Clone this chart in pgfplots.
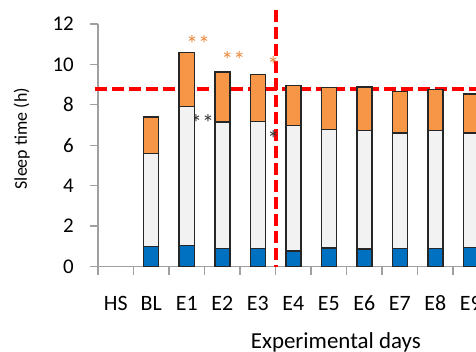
\documentclass[border=0pt]{standalone}
\usepackage{pgfplots}
\pgfplotsset{compat=1.18}
\usepackage{fontspec}
\setmainfont{Carlito}
\definecolor{barblue}{HTML}{0070C0}
\definecolor{bargray}{HTML}{F2F2F2}
\definecolor{barorange}{HTML}{F79646}
\definecolor{starorange}{HTML}{E98A3E}
\definecolor{axgray}{HTML}{A0A0A0}
\begin{document}
\begin{tikzpicture}
\path[use as bounding box, clip] (-98bp,-85.5bp) rectangle (378bp,266.5bp);
\begin{axis}[
  at={(0,0)}, anchor=south west,
  scale only axis, width=390.5bp, height=242.5bp,
  xmin=-0.5, xmax=10.5, ymin=0, ymax=12,
  clip=false,
  ybar stacked, bar width=15bp,
  axis x line=bottom, axis y line=left,
  axis line style={axgray, line width=1.2bp, -},
  tick align=outside, major tick length=8bp,
  xtick={-0.5,0.5,...,10.5},
  x tick label as interval,
  xticklabels={HS,BL,E1,E2,E3,E4,E5,E6,E7,E8,E9},
  ytick={0,2,...,12},
  xtick style={axgray, line width=1.2bp},
  ytick style={axgray, line width=1.2bp},
  /pgf/number format/assume math mode=true,
  xticklabel style={font=\fontsize{22}{26}\selectfont, anchor=base, inner sep=0pt, yshift=-36bp},
  yticklabel style={font=\fontsize{21}{24}\selectfont, anchor=east, inner sep=0pt, xshift=-16bp},
  xlabel={Experimental days},
  xlabel style={font=\fontsize{23}{27}\selectfont, at={([yshift=-81.5bp]axis cs:6.2,0)}, anchor=base, inner sep=0pt},
  ylabel={Sleep time (h)},
  ylabel style={font=\fontsize{18}{21}\selectfont, at={([xshift=-71bp]axis description cs:0,0.527)}, anchor=base, inner sep=0pt},
]
\addplot[fill=barblue, draw=black!85, line width=1.5bp] coordinates {
(1,1.00) (2,1.03) (3,0.90) (4,0.88) (5,0.77) (6,0.92) (7,0.87) (8,0.90) (9,0.90) (10,0.93)};
\addplot[fill=bargray, draw=black!85, line width=1.5bp] coordinates {
(1,4.59) (2,6.89) (3,6.26) (4,6.30) (5,6.20) (6,5.86) (7,5.86) (8,5.70) (9,5.82) (10,5.67)};
\addplot[fill=barorange, draw=black!85, line width=1.5bp] coordinates {
(1,1.82) (2,2.68) (3,2.47) (4,2.33) (5,1.99) (6,2.07) (7,2.15) (8,2.05) (9,2.05) (10,1.94)};
\node[anchor=base, text=starorange, font=\fontsize{24}{26}\selectfont, inner sep=0pt] at (axis cs:2.32,10.6) {**};
\node[anchor=base, text=starorange, font=\fontsize{24}{26}\selectfont, inner sep=0pt] at (axis cs:3.31,9.78) {**};
\node[anchor=base, text=starorange, font=\fontsize{24}{26}\selectfont, inner sep=0pt] at (axis cs:4.44,9.54) {*};
\node[anchor=base, text=black!80, font=\fontsize{24}{26}\selectfont, inner sep=0pt] at (axis cs:2.43,6.7) {**};
\node[anchor=base, text=black!80, font=\fontsize{24}{26}\selectfont, inner sep=0pt] at (axis cs:4.44,5.87) {*};
\draw[red, line width=4bp, dash pattern=on 12bp off 5bp] (axis cs:-0.58,8.78) -- (axis cs:10.5,8.78);
\draw[red, line width=4bp, dash pattern=on 12bp off 5bp] (axis cs:4.5,12.67) -- (axis cs:4.5,0);
\end{axis}
\end{tikzpicture}
\end{document}
